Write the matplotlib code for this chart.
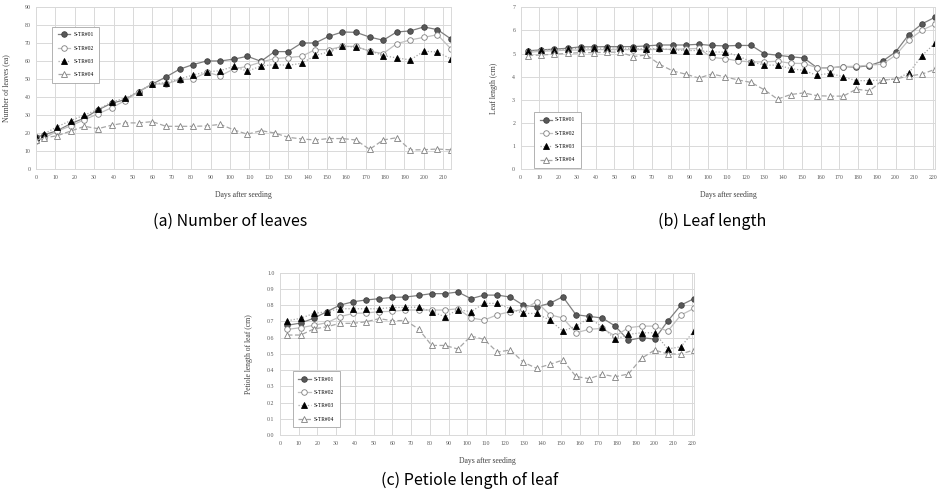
import matplotlib
matplotlib.use("Agg")
import matplotlib.pyplot as plt

# days after seeding
days_a = [0, 4, 11, 18, 25, 32, 39, 46, 53, 60, 67, 74, 81, 88, 95, 102, 109, 116,
          123, 130, 137, 144, 151, 158, 165, 172, 179, 186, 193, 200, 207, 214]
days_bc = [4, 11, 18, 25, 32, 39, 46, 53, 60, 67, 74, 81, 88, 95, 102, 109, 116,
           123, 130, 137, 144, 151, 158, 165, 172, 179, 186, 193, 200, 207, 214, 221]

labels = ["S-TR#01", "S-TR#02", "S-TR#03", "S-TR#04"]

# (a) number of leaves (ea)
leaves_01 = [17.6, 18.9, 21.3, 25.2, 28.3, 32.8, 36.5, 38.5, 43, 47.2, 51.1, 55.4, 58, 60, 60, 61,
             62.6, 59.8, 65.2, 65.2, 70, 70, 73.7, 76.1, 75.9, 73.3, 71.5, 76.1, 76.7, 78.9, 77.4, 72.2]
leaves_02 = [15.6, 17.2, 21, 24, 27.4, 30.6, 34, 38, 43, 47.2, 47.2, 49.6, 50, 53.7, 51.7, 55.6,
             57, 59.4, 61.3, 61.9, 62.6, 66.3, 66.3, 68.1, 68.1, 65.4, 64.1, 69.6, 71.7, 73.1, 74.6, 66.7]
leaves_03 = [18, 19.4, 23.5, 26.9, 30, 33.1, 37.2, 39.4, 43, 47.2, 48, 50, 52.2, 54, 54.6, 57,
             54.3, 57.2, 58, 57.6, 58.7, 63.1, 65, 68.3, 67.6, 65.7, 63, 61.7, 60.6, 65.4, 65, 61.1]
leaves_04 = [16, 17.2, 18.5, 21.1, 23.7, 22.4, 24.3, 25.6, 25.6, 26.3, 23.7, 23.7, 23.7, 23.9, 24.8, 21.7,
             19.3, 21.3, 20, 17.6, 16.7, 16.1, 16.9, 16.9, 16.1, 10.9, 16.1, 17.4, 10.6, 10.7, 11.1, 10.6]

# (b) leaf length (cm)
length_01 = [5.12, 5.16, 5.19, 5.23, 5.29, 5.29, 5.30, 5.30, 5.30, 5.33, 5.37, 5.37, 5.37, 5.40, 5.35, 5.33,
             5.35, 5.35, 4.99, 4.93, 4.86, 4.81, 4.39, 4.38, 4.44, 4.41, 4.48, 4.67, 5.07, 5.82, 6.28, 6.57]
length_02 = [5.05, 5.10, 5.12, 5.15, 5.15, 5.17, 5.17, 5.17, 5.17, 5.17, 5.18, 5.18, 5.20, 5.22, 4.83, 4.78,
             4.68, 4.64, 4.64, 4.67, 4.58, 4.57, 4.39, 4.37, 4.44, 4.45, 4.50, 4.54, 4.93, 5.58, 6.01, 6.27]
length_03 = [5.09, 5.16, 5.16, 5.20, 5.23, 5.23, 5.24, 5.24, 5.22, 5.20, 5.22, 5.16, 5.13, 5.13, 5.07, 5.06,
             4.90, 4.64, 4.50, 4.50, 4.35, 4.27, 4.06, 4.15, 3.99, 3.83, 3.83, 3.86, 3.90, 4.16, 4.91, 5.45]
length_04 = [4.91, 4.94, 4.97, 5.01, 5.04, 5.04, 5.06, 5.06, 4.87, 4.94, 4.54, 4.25, 4.11, 3.94, 4.12, 3.99,
             3.86, 3.75, 3.43, 3.03, 3.23, 3.30, 3.18, 3.16, 3.16, 3.46, 3.39, 3.85, 3.90, 4.03, 4.11, 4.32]

# (c) petiole length of leaf (cm)
petiole_01 = [0.676, 0.69, 0.719, 0.76, 0.80, 0.821, 0.832, 0.84, 0.848, 0.85, 0.86, 0.871, 0.871, 0.881, 0.84, 0.862,
              0.862, 0.85, 0.799, 0.79, 0.811, 0.852, 0.741, 0.731, 0.721, 0.671, 0.583, 0.60, 0.591, 0.702, 0.80, 0.84]
petiole_02 = [0.651, 0.661, 0.676, 0.692, 0.729, 0.749, 0.752, 0.76, 0.762, 0.77, 0.77, 0.77, 0.77, 0.778, 0.721, 0.708,
              0.741, 0.76, 0.774, 0.821, 0.741, 0.721, 0.63, 0.651, 0.657, 0.61, 0.661, 0.671, 0.671, 0.64, 0.739, 0.78]
petiole_03 = [0.704, 0.719, 0.749, 0.76, 0.778, 0.778, 0.778, 0.778, 0.786, 0.786, 0.788, 0.76, 0.729, 0.772, 0.76, 0.811,
              0.811, 0.778, 0.749, 0.749, 0.708, 0.64, 0.671, 0.721, 0.667, 0.589, 0.62, 0.63, 0.63, 0.53, 0.544, 0.64]
petiole_04 = [0.616, 0.616, 0.653, 0.667, 0.688, 0.688, 0.698, 0.717, 0.704, 0.706, 0.653, 0.552, 0.552, 0.53, 0.61, 0.589,
              0.511, 0.524, 0.448, 0.411, 0.435, 0.462, 0.361, 0.347, 0.374, 0.359, 0.376, 0.472, 0.524, 0.499, 0.499, 0.524]

SERIF = "Liberation Serif"

styles = [
    dict(color="#7f7f7f", ls="-", marker="o", mfc="#595959", mec="#404040"),
    dict(color="#c0c0c0", ls="-", marker="o", mfc="white", mec="#7f7f7f"),
    dict(color="#a6a6a6", ls=(0, (1, 1.5)), marker="^", mfc="black", mec="black"),
    dict(color="#a6a6a6", ls=(0, (4, 2)), marker="^", mfc="white", mec="#7f7f7f"),
]


def draw(ax, x, series, xmax, ymax, ystep, yfmt, ylabel, legend_anchor):
    for y, lab, st in zip(series, labels, styles):
        ax.plot(x, y, label=lab, lw=0.9, ms=4, mew=0.6, **st)
    ax.set_xlim(0, xmax)
    ax.set_ylim(0, ymax)
    ax.set_xticks(range(0, int(xmax) + 1, 10))
    n = int(round(ymax / ystep))
    yt = [i * ystep for i in range(n + 1)]
    ax.set_yticks(yt)
    ax.set_yticklabels([yfmt.format(v) for v in yt])
    ax.grid(True, color="#d9d9d9", lw=0.7)
    ax.set_axisbelow(True)
    for sp in ax.spines.values():
        sp.set_color("#d9d9d9")
        sp.set_linewidth(0.7)
    ax.tick_params(length=0, pad=4, labelsize=4.2, labelcolor="#595959")
    for t in ax.get_xticklabels() + ax.get_yticklabels():
        t.set_fontfamily(SERIF)
    ax.set_xlabel("Days after seeding", fontsize=5.5, family=SERIF, color="#404040", labelpad=8)
    ax.set_ylabel(ylabel, fontsize=5.5, family=SERIF, color="#404040", labelpad=10)
    leg = ax.legend(loc="upper left", bbox_to_anchor=legend_anchor, borderaxespad=0,
                    prop={"family": SERIF, "size": 4}, fancybox=False, framealpha=1,
                    edgecolor="#a6a6a6", labelspacing=1.5, handlelength=2.2,
                    handletextpad=0.6, borderpad=1.0)
    leg.get_frame().set_linewidth(0.6)


fig = plt.figure(figsize=(9.42, 4.97), dpi=100)

ax_a = fig.add_axes([0.0382, 0.660, 0.4406, 0.326])
draw(ax_a, days_a, [leaves_01, leaves_02, leaves_03, leaves_04], 214, 90, 10, "{:.0f}",
     "Number of leaves (ea)", (0.039, 0.877))

ax_b = fig.add_axes([0.5528, 0.6594, 0.4398, 0.326])
draw(ax_b, days_bc, [length_01, length_02, length_03, length_04], 221, 7, 1, "{:.0f}",
     "Leaf length (cm)", (0.032, 0.354))

ax_c = fig.add_axes([0.2972, 0.1247, 0.4395, 0.3266])
draw(ax_c, days_bc, [petiole_01, petiole_02, petiole_03, petiole_04], 221, 1.0, 0.1, "{:.1f}",
     "Petiole length of leaf (cm)", (0.031, 0.394))

cap = dict(fontsize=11.5, family=["Noto Sans CJK KR", "DejaVu Sans"], ha="center", va="center")
fig.text(230 / 942, 1 - 221 / 497, "(a) Number of leaves", **cap)
fig.text(712 / 942, 1 - 221 / 497, "(b) Leaf length", **cap)
fig.text(470 / 942, 1 - 480 / 497, "(c) Petiole length of leaf", **cap)

fig.savefig("out.png", dpi=100)
